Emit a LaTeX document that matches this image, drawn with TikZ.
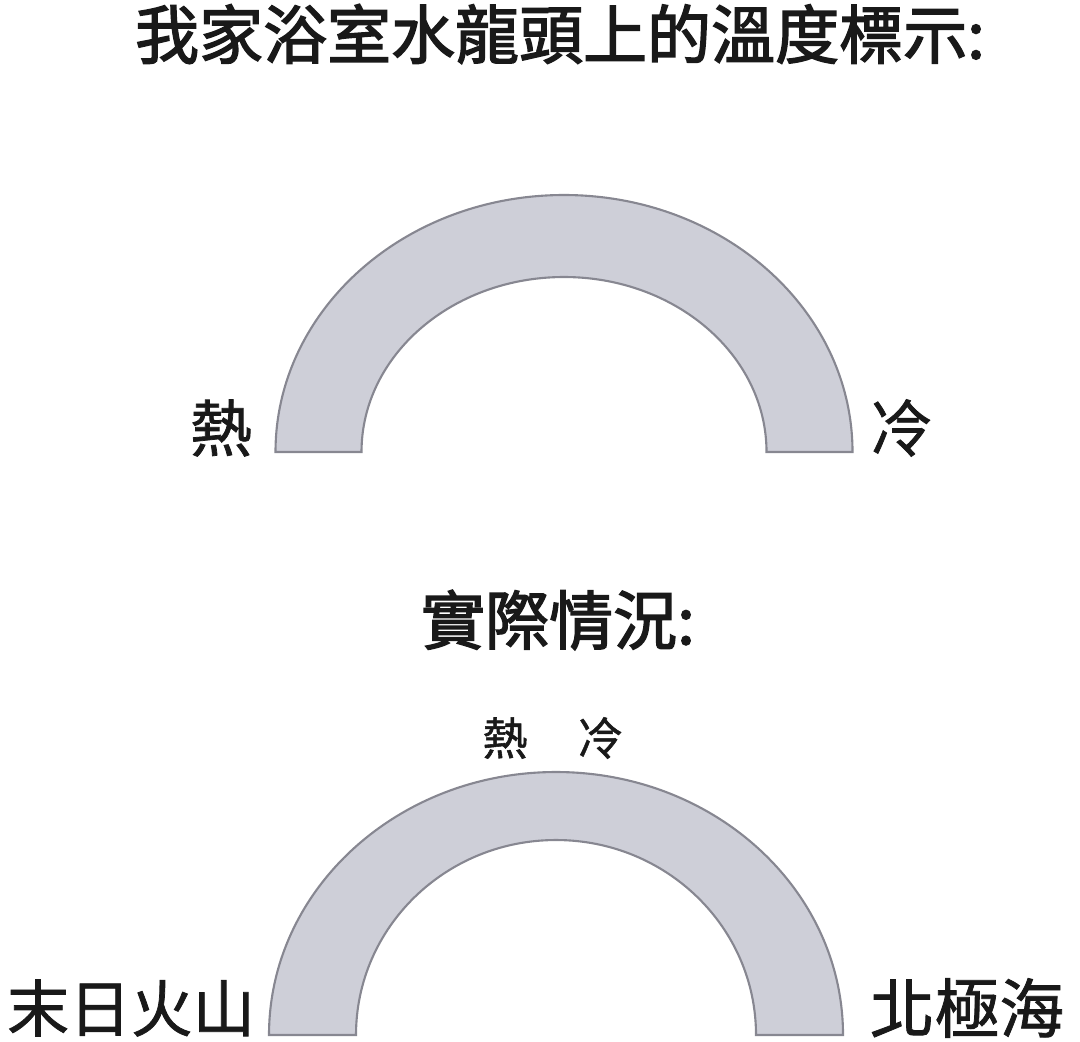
\documentclass[tikz,border=0pt]{standalone}
\usepackage{fontspec}
\setmainfont{Noto Sans CJK TC}
\newfontfamily\headfont[FakeBold=2.2]{Noto Sans CJK TC}
\newfontfamily\endfont[FakeBold=1.2]{Noto Sans CJK TC}
\usepackage{tikz}
\definecolor{archfill}{RGB}{206,207,216}
\definecolor{archline}{RGB}{135,135,145}

\begin{document}
\begin{tikzpicture}[x=0.01cm, y=0.01cm,
    arch/.style={fill=archfill, draw=archline, line width=0.6pt},
    heading/.style={inner sep=0pt, text=black!90, font=\headfont\fontsize{18.2pt}{20pt}\selectfont},
    side/.style={inner sep=0pt, text=black!90, font=\endfont\fontsize{17.6pt}{19pt}\selectfont},
    small/.style={inner sep=0pt, text=black!90, font=\endfont\fontsize{12.8pt}{14pt}\selectfont}]
    \useasboundingbox (0,0) rectangle (1080,1041);

    % Define centres of the two arches
    \coordinate (A_top) at (564,589);
    \coordinate (A_bot) at (556,6);

    % Draw the arches
    \filldraw[arch] (275.5,589) arc[start angle=180, end angle=0, x radius=288.5, y radius=257]
        -- (766.5,589) arc[start angle=0, end angle=180, x radius=202.5, y radius=175] -- cycle;
    \filldraw[arch] (269,6) arc[start angle=180, end angle=0, x radius=287, y radius=263]
        -- (756,6) arc[start angle=0, end angle=180, x radius=200, y radius=195] -- cycle;

    % Add titles
    \node[heading] (title) at (560,1007) {我家浴室水龍頭上的溫度標示:};
    \node[heading] (reality) at (558,421) {實際情況:};

    % Add ends of the arches
    \node[side] (hot_top) at (221,613) {熱};
    \node[side] (cold_top) at (901,613) {冷};
    \node[small] (hot_bot) at (505,303) {熱};
    \node[small] (cold_bot) at (600,303) {冷};
    \node[side] (volcano) at (131,33) {末日火山};
    \node[side, font=\endfont\fontsize{18.4pt}{20pt}\selectfont] (arctic) at (967,33) {北極海};
\end{tikzpicture}
\end{document}
